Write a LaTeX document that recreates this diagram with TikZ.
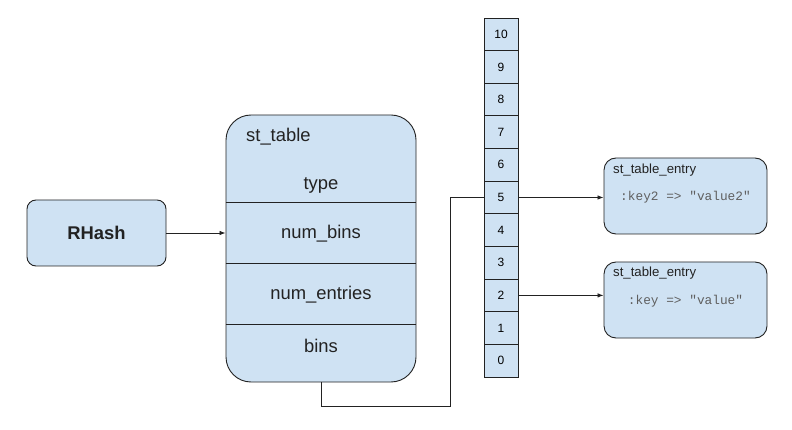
\documentclass[tikz,border=0pt]{standalone}
\usepackage{fontspec}
\setmainfont{Liberation Sans}
\setmonofont{Liberation Mono}
\usetikzlibrary{arrows.meta}
\definecolor{boxfill}{HTML}{CFE2F3}
\definecolor{edgec}{HTML}{222222}
\definecolor{codegray}{HTML}{5F5F5F}
\begin{document}
\begin{tikzpicture}[x=1pt,y=-1pt,
  box/.style={draw=edgec, fill=boxfill, line width=0.9pt, inner sep=0pt},
  cell/.style={box, minimum width=34pt, minimum height=32.64pt, font=\fontsize{12}{14}\selectfont},
  big/.style={font=\fontsize{18.4}{22}\selectfont, text=edgec, inner sep=0pt},
  title/.style={font=\fontsize{13.2}{16}\selectfont, text=edgec, inner sep=0pt, anchor=west},
  code/.style={font=\ttfamily\fontsize{12.8}{15}\selectfont, text=codegray, inner sep=0pt},
  link/.style={draw=edgec, line width=0.8pt},
  arr/.style={link, -{Latex[length=6pt,width=4.5pt]}}
]
\useasboundingbox (0,0) rectangle (792,430);

% RHash
\node[box, rounded corners=9pt, minimum width=139pt, minimum height=66pt] (rhash) at (96.5,233) {};
\node[big, font=\bfseries\fontsize{18.4}{22}\selectfont] (rhashlbl) at (rhash.center) {RHash};

% st_table
\node[box, rounded corners=25pt, minimum width=190pt, minimum height=267pt] (st) at (321,248.5) {};
\coordinate (d1) at (321,202);
\coordinate (d2) at (321,263);
\coordinate (d3) at (321,324);
\draw[link] (st.west |- d1) -- (st.east |- d1);
\draw[link] (st.west |- d2) -- (st.east |- d2);
\draw[link] (st.west |- d3) -- (st.east |- d3);
\node[big, anchor=west] (sttitle) at (246,137) {st\_table};
\node[big] (ftype) at (321,185) {type};
\node[big] (fbins) at (321,234) {num\_bins};
\node[big] (fentries) at (321,295) {num\_entries};
\node[big] (fbin) at (321,346) {bins};

% array
\foreach \i in {0,...,10} {
  \node[cell] (c\i) at (501, 377-\i*32.64-16.32) {\i};
}

% entries
\node[box, rounded corners=12pt, minimum width=163pt, minimum height=76pt] (e1) at (685.5,196) {};
\node[box, rounded corners=12pt, minimum width=163pt, minimum height=76pt] (e2) at (685.5,300) {};
\node[title] (e1t) at (613,170) {st\_table\_entry};
\node[title] (e2t) at (613,273) {st\_table\_entry};
\node[code] (e1c) at (685.5,197) {:key2 => "value2"};
\node[code] (e2c) at (685.5,301) {:key => "value"};

% connectors
\draw[arr] (rhash.east) -- (st.west |- rhash.east);
\coordinate (bend1) at (321,406);
\coordinate (bend2) at (450,406);
\draw[link] (st.south) -- (bend1) -- (bend2) -- (bend2 |- c5.west) -- (c5.west);
\draw[arr] (c5.east) -- (e1.west |- c5.east);
\draw[arr] (c2.east) -- (e2.west |- c2.east);
\end{tikzpicture}
\end{document}
